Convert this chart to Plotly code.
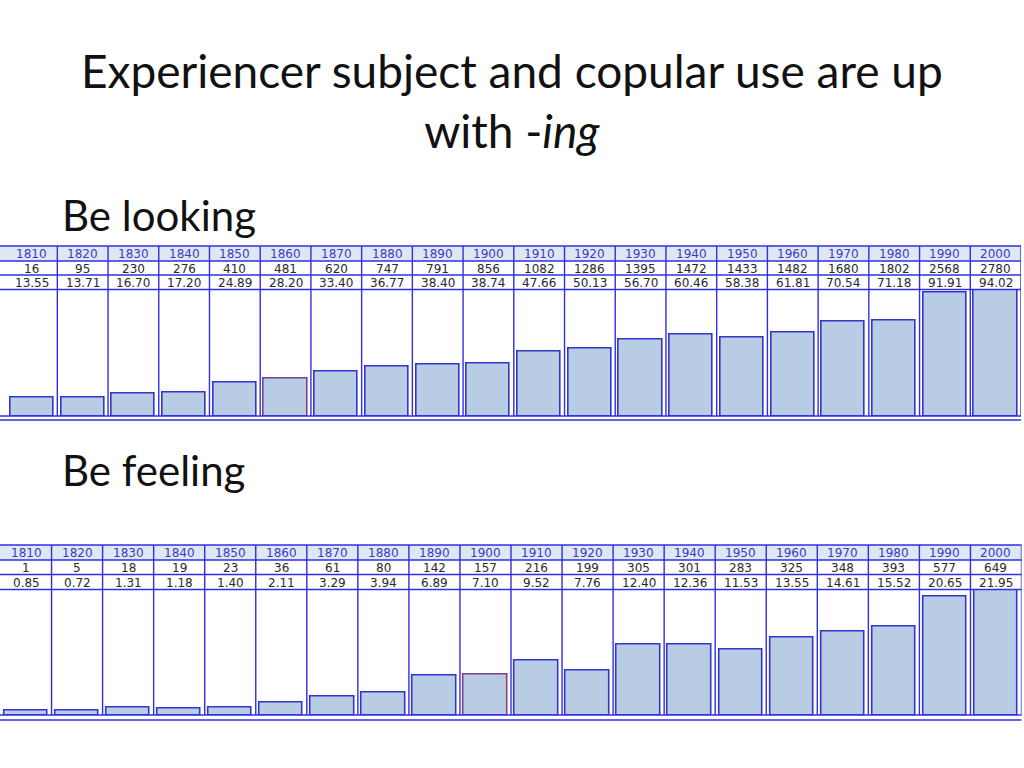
import plotly.graph_objects as go

W, H = 1024, 768

decades = [1810, 1820, 1830, 1840, 1850, 1860, 1870, 1880, 1890, 1900,
           1910, 1920, 1930, 1940, 1950, 1960, 1970, 1980, 1990, 2000]

looking_freq = [16, 95, 230, 276, 410, 481, 620, 747, 791, 856,
                1082, 1286, 1395, 1472, 1433, 1482, 1680, 1802, 2568, 2780]
looking_pm = [13.55, 13.71, 16.70, 17.20, 24.89, 28.20, 33.40, 36.77, 38.40, 38.74,
              47.66, 50.13, 56.70, 60.46, 58.38, 61.81, 70.54, 71.18, 91.91, 94.02]

feeling_freq = [1, 5, 18, 19, 23, 36, 61, 80, 142, 157,
                216, 199, 305, 301, 283, 325, 348, 393, 577, 649]
feeling_pm = [0.85, 0.72, 1.31, 1.18, 1.40, 2.11, 3.29, 3.94, 6.89, 7.10,
              9.52, 7.76, 12.40, 12.36, 11.53, 13.55, 14.61, 15.52, 20.65, 21.95]

# one bar in each panel was hovered in the screenshot
looking_hover = 1860
feeling_hover = 1900

GRID = "#2f2fe6"
BAR_FILL = "#b8cce4"
BAR_LINE = "#3434cc"
HOVER_LINE = "#7e3f8c"
HEAD_BG = "#dfe7f3"
HEAD_TXT = "#3b3bc4"
TXT = "#2a2a2a"
TFONT = "DejaVu Sans"


def py(px):
    # pixel row -> paper y
    return 1 - px / H


def pxx(px):
    return px / W


# pixel geometry of each panel: left, right, table top, header bottom,
# count bottom, pm bottom (= bar top), bar bottom, second bottom line
panels = [
    dict(x0=6.6, x1=1021, top=246, r1=261, r2=275, r3=289.5, bot=416, bot2=420,
         freq=looking_freq, pm=looking_pm, hover=looking_hover),
    dict(x0=0.5, x1=1021.5, top=545, r1=560, r2=574.5, r3=589.5, bot=715, bot2=720,
         freq=feeling_freq, pm=feeling_pm, hover=feeling_hover),
]

fig = go.Figure()
shapes = []
annotations = []

for k, p in enumerate(panels):
    xa = "x" if k == 0 else "x2"
    ya = "y" if k == 0 else "y2"
    xname = "xaxis" if k == 0 else "xaxis2"
    yname = "yaxis" if k == 0 else "yaxis2"
    idx = list(range(len(decades)))
    line_cols = [HOVER_LINE if d == p["hover"] else BAR_LINE for d in decades]

    fig.add_trace(go.Bar(
        x=idx, y=p["pm"], xaxis=xa, yaxis=ya, width=0.85,
        marker=dict(color=BAR_FILL, line=dict(color=line_cols, width=1.6)),
        showlegend=False, hoverinfo="skip",
    ))

    fig.update_layout({
        xname: dict(domain=[pxx(p["x0"]), pxx(p["x1"])], range=[-0.5, len(decades) - 0.5],
                    visible=False, fixedrange=True),
        yname: dict(domain=[py(p["bot"]), py(p["r3"])], range=[0, max(p["pm"])],
                    visible=False, fixedrange=True),
    })

    # header background
    shapes.append(dict(type="rect", xref="paper", yref="paper",
                       x0=0, x1=pxx(p["x1"]), y0=py(p["r1"]), y1=py(p["top"]),
                       fillcolor=HEAD_BG, line=dict(width=0), layer="below"))

    # horizontal rules
    for yy in [p["top"], p["r1"], p["r2"], p["r3"], p["bot"], p["bot2"]]:
        shapes.append(dict(type="line", xref="paper", yref="paper",
                           x0=0, x1=pxx(p["x1"]), y0=py(yy), y1=py(yy),
                           line=dict(color=GRID, width=1.6)))

    # column separators
    for i in idx:
        shapes.append(dict(type="line", xref=xa, yref="paper",
                           x0=i + 0.5, x1=i + 0.5, y0=py(p["bot"]), y1=py(p["top"]),
                           line=dict(color=GRID, width=1.4)))

    # table cells
    rows = [
        ([str(d) for d in decades], (p["top"] + p["r1"]) / 2, HEAD_TXT),
        ([str(v) for v in p["freq"]], (p["r1"] + p["r2"]) / 2, TXT),
        (["%.2f" % v for v in p["pm"]], (p["r2"] + p["r3"]) / 2, TXT),
    ]
    for labels, yc, col in rows:
        for i, lab in enumerate(labels):
            annotations.append(dict(
                x=i, y=py(yc + 0.5), xref=xa, yref="paper", text=lab, showarrow=False,
                xanchor="center", yanchor="middle",
                font=dict(family=TFONT, size=12, color=col),
            ))

# slide texts
TITLE_FONT = "Lato"
annotations.append(dict(
    x=0.5, y=py(101), xref="paper", yref="paper", showarrow=False,
    xanchor="center", yanchor="middle", align="center",
    text="Experiencer subject and copular use are up<br>with -<i>ing</i>",
    font=dict(family=TITLE_FONT, size=46, color="#111111"),
))
annotations.append(dict(
    x=pxx(60), y=py(215), xref="paper", yref="paper", showarrow=False,
    xanchor="left", yanchor="middle", text="Be looking",
    font=dict(family=TITLE_FONT, size=42, color="#111111"),
))
annotations.append(dict(
    x=pxx(60), y=py(470), xref="paper", yref="paper", showarrow=False,
    xanchor="left", yanchor="middle", text="Be feeling",
    font=dict(family=TITLE_FONT, size=42, color="#111111"),
))

fig.update_layout(
    width=W, height=H,
    margin=dict(l=0, r=0, t=0, b=0),
    paper_bgcolor="white", plot_bgcolor="rgba(0,0,0,0)",
    bargap=0, shapes=shapes, annotations=annotations,
)

# drop the browser's default page margin so the figure fills the window
fig.write_html("out.html", config={"displayModeBar": False},
               post_script="document.body.style.margin='0';")
